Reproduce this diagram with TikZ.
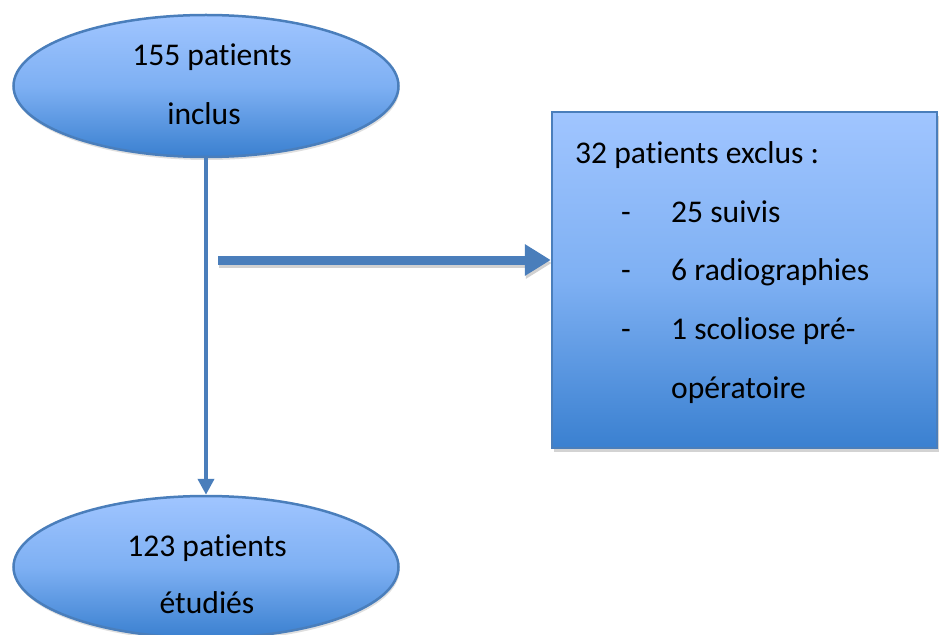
\documentclass[tikz,border=0pt]{standalone}
\usepackage{fontspec}
\setmainfont{Carlito}[Ligatures={NoCommon},RawFeature={-liga}]
\usetikzlibrary{arrows.meta,shadows,shapes.geometric}
\definecolor{edgeblue}{RGB}{74,126,187}
\definecolor{topblue}{RGB}{160,197,255}
\definecolor{midblue}{RGB}{126,176,243}
\definecolor{botblue}{RGB}{58,128,208}
\begin{document}
\begin{tikzpicture}[x=1bp,y=-1bp,
  font=\fontsize{31.6bp}{37bp}\selectfont,
  lbl/.style={anchor=base,inner sep=0pt,text=black},
  lblw/.style={anchor=base west,inner sep=0pt,text=black},
  oval/.style={ellipse,draw=edgeblue,line width=2.5bp,
    top color=topblue,bottom color=botblue,middle color=midblue,
    minimum width=385bp,minimum height=142bp,inner sep=0pt,
    drop shadow={shadow xshift=1bp,shadow yshift=-3bp,opacity=0.25}},
  panel/.style={rectangle,draw=edgeblue,line width=2.5bp,
    top color=topblue,bottom color=botblue,middle color=midblue,
    minimum width=385bp,minimum height=336bp,inner sep=0pt,
    drop shadow={shadow xshift=2bp,shadow yshift=-4bp,opacity=0.35}},
  flow/.style={draw=edgeblue,line cap=butt}
]
\useasboundingbox (0,0) rectangle (942,635);
\clip (0,0) rectangle (942,635);

\node[oval] (inc) at (206,86) {};
\node[lbl] (inc1) at (212,66) {155 patients};
\node[lbl] (inc2) at (204,125) {inclus};

\node[oval] (etu) at (206,567) {};
\node[lbl] (etu1) at (207,556) {123 patients};
\node[lbl] (etu2) at (207,613) {étudiés};

\node[panel] (exc) at (744.5,280) {};
\node[lblw] (e0) at (575,164) {32 patients exclus :};
\node[lblw] (d1) at (621,222.5) {-};
\node[lblw] (e1) at (671,222.5) {25 suivis};
\node[lblw] (d2) at (621,281) {-};
\node[lblw] (e2) at (671,281) {6 radiographies};
\node[lblw] (d3) at (621,339.5) {-};
\node[lblw] (e3) at (671,339.5) {1 scoliose pré-};
\node[lblw] (e4) at (671,398) {opératoire};

\coordinate (hs) at (218,260);
\begin{scope}[transform canvas={xshift=1bp,yshift=-3bp}]
  \draw[draw=black,opacity=0.18,line width=9bp,
    -{Triangle[length=26bp,width=30bp]}] (hs) -- (hs -| exc.west);
\end{scope}
\draw[flow,line width=9bp,-{Triangle[length=26bp,width=30bp]}]
  (hs) -- (hs -| exc.west);
\draw[flow,line width=4.5bp,-{Triangle[length=16bp,width=16bp]}]
  (inc.south) -- (etu.north);
\end{tikzpicture}
\end{document}
